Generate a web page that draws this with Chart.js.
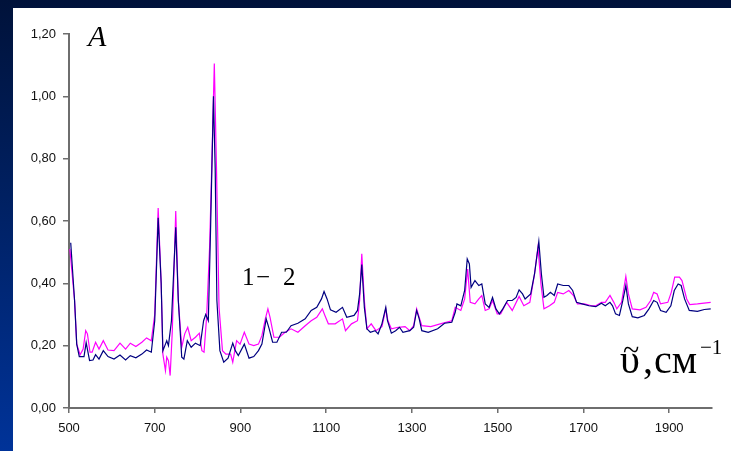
<!DOCTYPE html>
<html>
<head>
<meta charset="utf-8">
<script src="https://cdn.jsdelivr.net/npm/chart.js@4/dist/chart.umd.min.js"></script>
<style>
  html, body { margin: 0; padding: 0; }
  body { width: 731px; height: 451px; overflow: hidden; position: relative;
         background: linear-gradient(to bottom, #00123a 0%, #001f5e 40%, #003399 100%); }
  #panel { position: absolute; left: 13px; top: 8px; right: 0; bottom: 0; background: #ffffff; }
  #c { position: absolute; left: 0; top: 0; }
</style>
</head>
<body>
<div id="panel"></div>
<canvas id="c" width="731" height="451"></canvas>
<script>
// Wavenumbers (cm^-1) and absorbance, series 1 (navy)
const wn1 = [504,513,518,524,535,540,548,556,562,570,580,591,605,619,632,643,656,670,681,692,700,708,715,719,725,728,732,739,749,755,763,768,776,785,795,806,814,819,825,830,837,841,845,852,861,871,882,888,895,909,920,931,942,950,960,967,975,985,996,1007,1018,1034,1051,1065,1078,1089,1095,1102,1110,1123,1138,1148,1165,1173,1178,1183,1189,1195,1203,1214,1221,1230,1239,1243,1252,1262,1271,1279,1295,1304,1311,1317,1323,1338,1360,1376,1393,1401,1405,1414,1423,1429,1434,1438,1447,1456,1463,1471,1480,1488,1496,1504,1512,1523,1534,1543,1550,1558,1564,1577,1586,1596,1602,1608,1615,1623,1632,1640,1653,1666,1675,1684,1697,1713,1729,1742,1751,1762,1768,1775,1784,1792,1799,1805,1814,1827,1842,1853,1864,1872,1880,1893,1904,1912,1921,1928,1936,1947,1966,1982,1997];
const abs1 = [0.53,0.345,0.205,0.165,0.165,0.21,0.152,0.154,0.171,0.157,0.184,0.165,0.157,0.170,0.154,0.168,0.161,0.173,0.186,0.179,0.28,0.61,0.40,0.184,0.205,0.216,0.20,0.28,0.58,0.345,0.163,0.157,0.216,0.195,0.208,0.20,0.28,0.30,0.28,0.56,1.00,0.77,0.345,0.184,0.147,0.16,0.208,0.184,0.168,0.205,0.16,0.165,0.184,0.205,0.286,0.254,0.211,0.211,0.243,0.243,0.264,0.272,0.286,0.313,0.323,0.35,0.374,0.35,0.315,0.307,0.323,0.291,0.297,0.313,0.366,0.46,0.323,0.254,0.243,0.248,0.238,0.27,0.323,0.28,0.24,0.248,0.259,0.243,0.248,0.259,0.313,0.286,0.248,0.243,0.254,0.272,0.275,0.307,0.334,0.328,0.377,0.478,0.462,0.387,0.409,0.393,0.398,0.334,0.323,0.355,0.318,0.302,0.318,0.345,0.345,0.355,0.379,0.366,0.35,0.366,0.43,0.534,0.43,0.355,0.361,0.371,0.361,0.398,0.393,0.393,0.377,0.339,0.334,0.328,0.325,0.336,0.328,0.339,0.328,0.302,0.297,0.345,0.393,0.334,0.293,0.289,0.297,0.318,0.345,0.339,0.313,0.307,0.328,0.377,0.398,0.393,0.35,0.313,0.31,0.316,0.318];
// Series 2 (magenta)
const wn2 = [502,513,518,526,533,539,543,549,554,562,570,580,591,605,619,632,643,656,670,681,692,700,708,715,719,725,728,732,736,741,749,755,763,770,777,785,795,804,810,815,821,828,833,839,844,850,858,866,877,882,891,899,909,920,931,942,950,958,964,969,978,991,1004,1018,1034,1051,1065,1078,1091,1097,1105,1121,1138,1145,1159,1173,1178,1183,1189,1195,1205,1216,1230,1239,1244,1252,1268,1284,1295,1304,1311,1317,1323,1344,1366,1393,1401,1414,1423,1430,1436,1447,1456,1463,1471,1480,1488,1499,1507,1521,1534,1550,1561,1575,1586,1594,1601,1608,1621,1632,1640,1653,1666,1677,1686,1702,1719,1729,1742,1751,1762,1771,1778,1789,1799,1805,1814,1832,1846,1857,1864,1872,1880,1897,1905,1913,1924,1930,1941,1948,1966,1997];
const abs2 = [0.51,0.345,0.205,0.171,0.189,0.248,0.238,0.179,0.179,0.211,0.189,0.216,0.186,0.184,0.208,0.189,0.208,0.197,0.211,0.225,0.216,0.30,0.642,0.40,0.173,0.12,0.163,0.152,0.104,0.248,0.632,0.345,0.195,0.238,0.259,0.216,0.227,0.24,0.184,0.179,0.291,0.516,0.773,1.105,0.773,0.323,0.184,0.173,0.173,0.147,0.216,0.205,0.243,0.205,0.20,0.205,0.232,0.286,0.318,0.291,0.227,0.227,0.243,0.254,0.243,0.264,0.28,0.291,0.318,0.297,0.27,0.27,0.286,0.248,0.27,0.28,0.345,0.495,0.345,0.254,0.27,0.248,0.261,0.318,0.28,0.254,0.259,0.261,0.248,0.264,0.318,0.291,0.264,0.261,0.27,0.28,0.323,0.313,0.35,0.446,0.339,0.334,0.35,0.361,0.313,0.318,0.345,0.302,0.302,0.339,0.313,0.358,0.328,0.339,0.43,0.516,0.398,0.318,0.328,0.339,0.371,0.366,0.377,0.361,0.334,0.334,0.328,0.328,0.339,0.339,0.361,0.339,0.318,0.339,0.422,0.366,0.318,0.315,0.323,0.345,0.371,0.366,0.334,0.339,0.371,0.42,0.42,0.409,0.35,0.332,0.334,0.339];
const xTicks = [500,700,900,1100,1300,1500,1700,1900];
const yTicks = [0,0.2,0.4,0.6,0.8,1.0,1.2];

const toPts = (xs, ys) => xs.map((x, i) => ({ x: x, y: ys[i] }));

const annotations = {
  id: 'annotations',
  afterDraw(chart) {
    const ctx = chart.ctx;
    ctx.save();
    ctx.fillStyle = '#000';
    ctx.textBaseline = 'alphabetic';
    ctx.textAlign = 'left';
    ctx.font = 'italic 30px "Liberation Serif"';
    ctx.fillText('A', 88, 46);
    ctx.font = '25px "Liberation Serif"';
    ctx.fillText('1', 242, 285);
    ctx.fillText('\u2212', 256, 285);
    ctx.fillText('2', 283, 285);
    ctx.font = '40px "Liberation Serif"';
    ctx.fillText('\u03C5', 620, 373);
    ctx.fillText(',', 643, 373);
    ctx.fillText('\u0441\u043C', 654, 373);
    ctx.font = '30px "Liberation Serif"';
    ctx.fillText('~', 623, 360);
    ctx.font = '21px "Liberation Serif"';
    ctx.fillText('\u22121', 700, 354);
    ctx.restore();
  }
};

new Chart(document.getElementById('c'), {
  type: 'line',
  data: {
    datasets: [
      { label: '1', data: toPts(wn1, abs1), borderColor: '#000080', borderWidth: 1.2, pointRadius: 0, tension: 0, fill: false },
      { label: '2', data: toPts(wn2, abs2), borderColor: '#ff00ff', borderWidth: 1.2, pointRadius: 0, tension: 0, fill: false }
    ]
  },
  options: {
    responsive: false,
    animation: false,
    devicePixelRatio: 1,
    layout: { padding: { left: 0, top: 34, right: 19, bottom: 0 } },
    plugins: { legend: { display: false }, tooltip: { enabled: false } },
    scales: {
      x: {
        type: 'linear', min: 500, max: 2000,
        afterBuildTicks: s => { s.ticks = xTicks.map(v => ({ value: v })); },
        afterFit: s => { s.height = 43; },
        grid: { drawOnChartArea: false, drawTicks: true, tickLength: 5, color: '#6e6e6e', lineWidth: 1.5 },
        border: { display: true, color: '#6e6e6e', width: 2 },
        ticks: { autoSkip: false, maxRotation: 0, padding: 8, color: '#111', font: { family: '"Liberation Sans", Arial', size: 13 },
                 callback: v => String(v) }
      },
      y: {
        type: 'linear', min: 0, max: 1.2,
        afterBuildTicks: s => { s.ticks = yTicks.map(v => ({ value: v })); },
        afterFit: s => { s.width = 69; },
        grid: { drawOnChartArea: false, drawTicks: true, tickLength: 6, color: '#6e6e6e', lineWidth: 1.5 },
        border: { display: true, color: '#6e6e6e', width: 2 },
        ticks: { padding: 7, color: '#111', font: { family: '"Liberation Sans", Arial', size: 13 },
                 callback: v => Number(v).toFixed(2).replace('.', ',') }
      }
    }
  },
  plugins: [annotations]
});
</script>
</body>
</html>
